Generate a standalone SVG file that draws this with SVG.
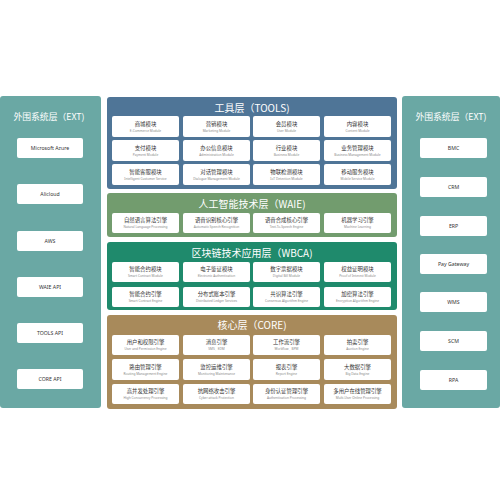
<svg xmlns="http://www.w3.org/2000/svg" width="500" height="500" viewBox="0 0 500 500">
<style>
.title{font-family:"Noto Sans CJK SC","Noto Sans",sans-serif;fill:#fff;text-anchor:middle}
.t1{font-size:10px}
.t2{font-size:8.8px}
.box{fill:#fff;rx:2px}
.cn{font-family:"Noto Sans CJK SC","Noto Sans",sans-serif;font-size:5.4px;fill:#333;text-anchor:middle}
.en{font-family:"Noto Sans","Liberation Sans",sans-serif;font-size:3.2px;fill:#888;text-anchor:middle}
.ext{font-family:"Noto Sans","Liberation Sans",sans-serif;font-size:5.2px;fill:#333;text-anchor:middle}
</style>
<rect width="500" height="500" fill="#fff"/>
<g id="ext-left">
<rect x="0" y="96" width="101" height="312" rx="3" fill="#6aa8a4"/>
<text class="title t2" x="49" y="120">外围系统层（EXT)</text>
<rect class="box" x="17" y="138" width="66" height="20"/><text class="ext" x="50" y="149.8">Microsoft Azure</text>
<rect class="box" x="17" y="184" width="66" height="20"/><text class="ext" x="50" y="195.8">Alicloud</text>
<rect class="box" x="17" y="231" width="66" height="20"/><text class="ext" x="50" y="242.8">AWS</text>
<rect class="box" x="17" y="277" width="66" height="20"/><text class="ext" x="50" y="288.8">WAIE API</text>
<rect class="box" x="17" y="323" width="66" height="20"/><text class="ext" x="50" y="334.8">TOOLS API</text>
<rect class="box" x="17" y="369" width="66" height="20"/><text class="ext" x="50" y="380.8">CORE API</text>
</g>
<g id="ext-right">
<rect x="402" y="96" width="98" height="312" rx="3" fill="#6aa8a4"/>
<text class="title t2" x="451" y="120">外围系统层（EXT)</text>
<rect class="box" x="420" y="138" width="67" height="20"/><text class="ext" x="453.5" y="149.8">BMC</text>
<rect class="box" x="420" y="177" width="67" height="20"/><text class="ext" x="453.5" y="188.8">CRM</text>
<rect class="box" x="420" y="216" width="67" height="20"/><text class="ext" x="453.5" y="227.8">ERP</text>
<rect class="box" x="420" y="254" width="67" height="20"/><text class="ext" x="453.5" y="265.8">Pay Gateway</text>
<rect class="box" x="420" y="292" width="67" height="20"/><text class="ext" x="453.5" y="303.8">WMS</text>
<rect class="box" x="420" y="331" width="67" height="20"/><text class="ext" x="453.5" y="342.8">SCM</text>
<rect class="box" x="420" y="370" width="67" height="20"/><text class="ext" x="453.5" y="381.8">RPA</text>
</g>
<g id="tools">
<rect x="107" y="97" width="290" height="92" rx="3" fill="#4f7597"/>
<text class="title t1" x="252" y="112">工具层（TOOLS)</text>
<rect class="box" x="112" y="116" width="67" height="21"/><text class="cn" x="145.5" y="125.5">商城模块</text><text class="en" x="145.5" y="131.5">E-Commerce Module</text>
<rect class="box" x="183" y="116" width="67" height="21"/><text class="cn" x="216.5" y="125.5">营销模块</text><text class="en" x="216.5" y="131.5">Marketing Module</text>
<rect class="box" x="253" y="116" width="67" height="21"/><text class="cn" x="286.5" y="125.5">会员模块</text><text class="en" x="286.5" y="131.5">User Module</text>
<rect class="box" x="324" y="116" width="67" height="21"/><text class="cn" x="357.5" y="125.5">内容模块</text><text class="en" x="357.5" y="131.5">Content Module</text>
<rect class="box" x="112" y="140" width="67" height="21"/><text class="cn" x="145.5" y="149.5">支付模块</text><text class="en" x="145.5" y="155.5">Payment Module</text>
<rect class="box" x="183" y="140" width="67" height="21"/><text class="cn" x="216.5" y="149.5">办公信息模块</text><text class="en" x="216.5" y="155.5">Administration Module</text>
<rect class="box" x="253" y="140" width="67" height="21"/><text class="cn" x="286.5" y="149.5">行业模块</text><text class="en" x="286.5" y="155.5">Business Module</text>
<rect class="box" x="324" y="140" width="67" height="21"/><text class="cn" x="357.5" y="149.5">业务管理模块</text><text class="en" x="357.5" y="155.5">Business Management Module</text>
<rect class="box" x="112" y="164" width="67" height="21"/><text class="cn" x="145.5" y="173.5">智能客服模块</text><text class="en" x="145.5" y="179.5">Intelligent Customer Service</text>
<rect class="box" x="183" y="164" width="67" height="21"/><text class="cn" x="216.5" y="173.5">对话管理模块</text><text class="en" x="216.5" y="179.5">Dialogue Management Module</text>
<rect class="box" x="253" y="164" width="67" height="21"/><text class="cn" x="286.5" y="173.5">物联检测模块</text><text class="en" x="286.5" y="179.5">IoT Detection Module</text>
<rect class="box" x="324" y="164" width="67" height="21"/><text class="cn" x="357.5" y="173.5">移动服务模块</text><text class="en" x="357.5" y="179.5">Mobile Service Module</text>
</g>
<g id="waie">
<rect x="107" y="193" width="290" height="44" rx="3" fill="#729c6e"/>
<text class="title t1" x="252" y="208">人工智能技术层（WAIE)</text>
<rect class="box" x="112" y="213" width="67" height="20"/><text class="cn" x="145.5" y="222">自然语言算法引擎</text><text class="en" x="145.5" y="228">Natural Language Processing</text>
<rect class="box" x="183" y="213" width="67" height="20"/><text class="cn" x="216.5" y="222">语音识别核心引擎</text><text class="en" x="216.5" y="228">Automatic Speech Recognition</text>
<rect class="box" x="253" y="213" width="67" height="20"/><text class="cn" x="286.5" y="222">语音合成核心引擎</text><text class="en" x="286.5" y="228">Text-To-Speech Engine</text>
<rect class="box" x="324" y="213" width="67" height="20"/><text class="cn" x="357.5" y="222">机器学习引擎</text><text class="en" x="357.5" y="228">Machine Learning</text>
</g>
<g id="wbca">
<rect x="107" y="242" width="290" height="68" rx="3" fill="#1f8a6c"/>
<text class="title t1" x="252" y="257">区块链技术应用层（WBCA)</text>
<rect class="box" x="112" y="262" width="67" height="20"/><text class="cn" x="145.5" y="271">智能合约模块</text><text class="en" x="145.5" y="277">Smart Contract Module</text>
<rect class="box" x="183" y="262" width="67" height="20"/><text class="cn" x="216.5" y="271">电子鉴证模块</text><text class="en" x="216.5" y="277">Electronic Authentication</text>
<rect class="box" x="253" y="262" width="67" height="20"/><text class="cn" x="286.5" y="271">数字票据模块</text><text class="en" x="286.5" y="277">Digital Bill Module</text>
<rect class="box" x="324" y="262" width="67" height="20"/><text class="cn" x="357.5" y="271">权益证明模块</text><text class="en" x="357.5" y="277">Proof of Interest Module</text>
<rect class="box" x="112" y="287" width="67" height="20"/><text class="cn" x="145.5" y="296">智能合约引擎</text><text class="en" x="145.5" y="302">Smart Contract Engine</text>
<rect class="box" x="183" y="287" width="67" height="20"/><text class="cn" x="216.5" y="296">分布式账本引擎</text><text class="en" x="216.5" y="302">Distributed Ledger Services</text>
<rect class="box" x="253" y="287" width="67" height="20"/><text class="cn" x="286.5" y="296">共识算法引擎</text><text class="en" x="286.5" y="302">Consensus Algorithm Engine</text>
<rect class="box" x="324" y="287" width="67" height="20"/><text class="cn" x="357.5" y="296">加密算法引擎</text><text class="en" x="357.5" y="302">Encryption Algorithm Engine</text>
</g>
<g id="core">
<rect x="107" y="315" width="290" height="94" rx="3" fill="#a88a5b"/>
<text class="title t1" x="252" y="329">核心层（CORE)</text>
<rect class="box" x="112" y="335" width="67" height="20"/><text class="cn" x="145.5" y="344">用户和权限引擎</text><text class="en" x="145.5" y="350">User and Permission Engine</text>
<rect class="box" x="183" y="335" width="67" height="20"/><text class="cn" x="216.5" y="344">消息引擎</text><text class="en" x="216.5" y="350">SMS、EDM</text>
<rect class="box" x="253" y="335" width="67" height="20"/><text class="cn" x="286.5" y="344">工作流引擎</text><text class="en" x="286.5" y="350">Workflow、BPM</text>
<rect class="box" x="324" y="335" width="67" height="20"/><text class="cn" x="357.5" y="344">拍卖引擎</text><text class="en" x="357.5" y="350">Auction Engine</text>
<rect class="box" x="112" y="359" width="67" height="21"/><text class="cn" x="145.5" y="368.5">路由管理引擎</text><text class="en" x="145.5" y="374.5">Routing Management Engine</text>
<rect class="box" x="183" y="359" width="67" height="21"/><text class="cn" x="216.5" y="368.5">监控运维引擎</text><text class="en" x="216.5" y="374.5">Monitoring Maintenance</text>
<rect class="box" x="253" y="359" width="67" height="21"/><text class="cn" x="286.5" y="368.5">报表引擎</text><text class="en" x="286.5" y="374.5">Report Engine</text>
<rect class="box" x="324" y="359" width="67" height="21"/><text class="cn" x="357.5" y="368.5">大数据引擎</text><text class="en" x="357.5" y="374.5">Big Data Engine</text>
<rect class="box" x="112" y="384" width="67" height="20"/><text class="cn" x="145.5" y="393">高并发处理引擎</text><text class="en" x="145.5" y="399">High Concurrency Processing</text>
<rect class="box" x="183" y="384" width="67" height="20"/><text class="cn" x="216.5" y="393">抗网络攻击引擎</text><text class="en" x="216.5" y="399">Cyber attack Protection</text>
<rect class="box" x="253" y="384" width="67" height="20"/><text class="cn" x="286.5" y="393">身份认证管理引擎</text><text class="en" x="286.5" y="399">Authentication Processing</text>
<rect class="box" x="324" y="384" width="67" height="20"/><text class="cn" x="357.5" y="393">多用户在线管理引擎</text><text class="en" x="357.5" y="399">Multi-User Online Processing</text>
</g>
<g id="connectors"></g>
</svg>
